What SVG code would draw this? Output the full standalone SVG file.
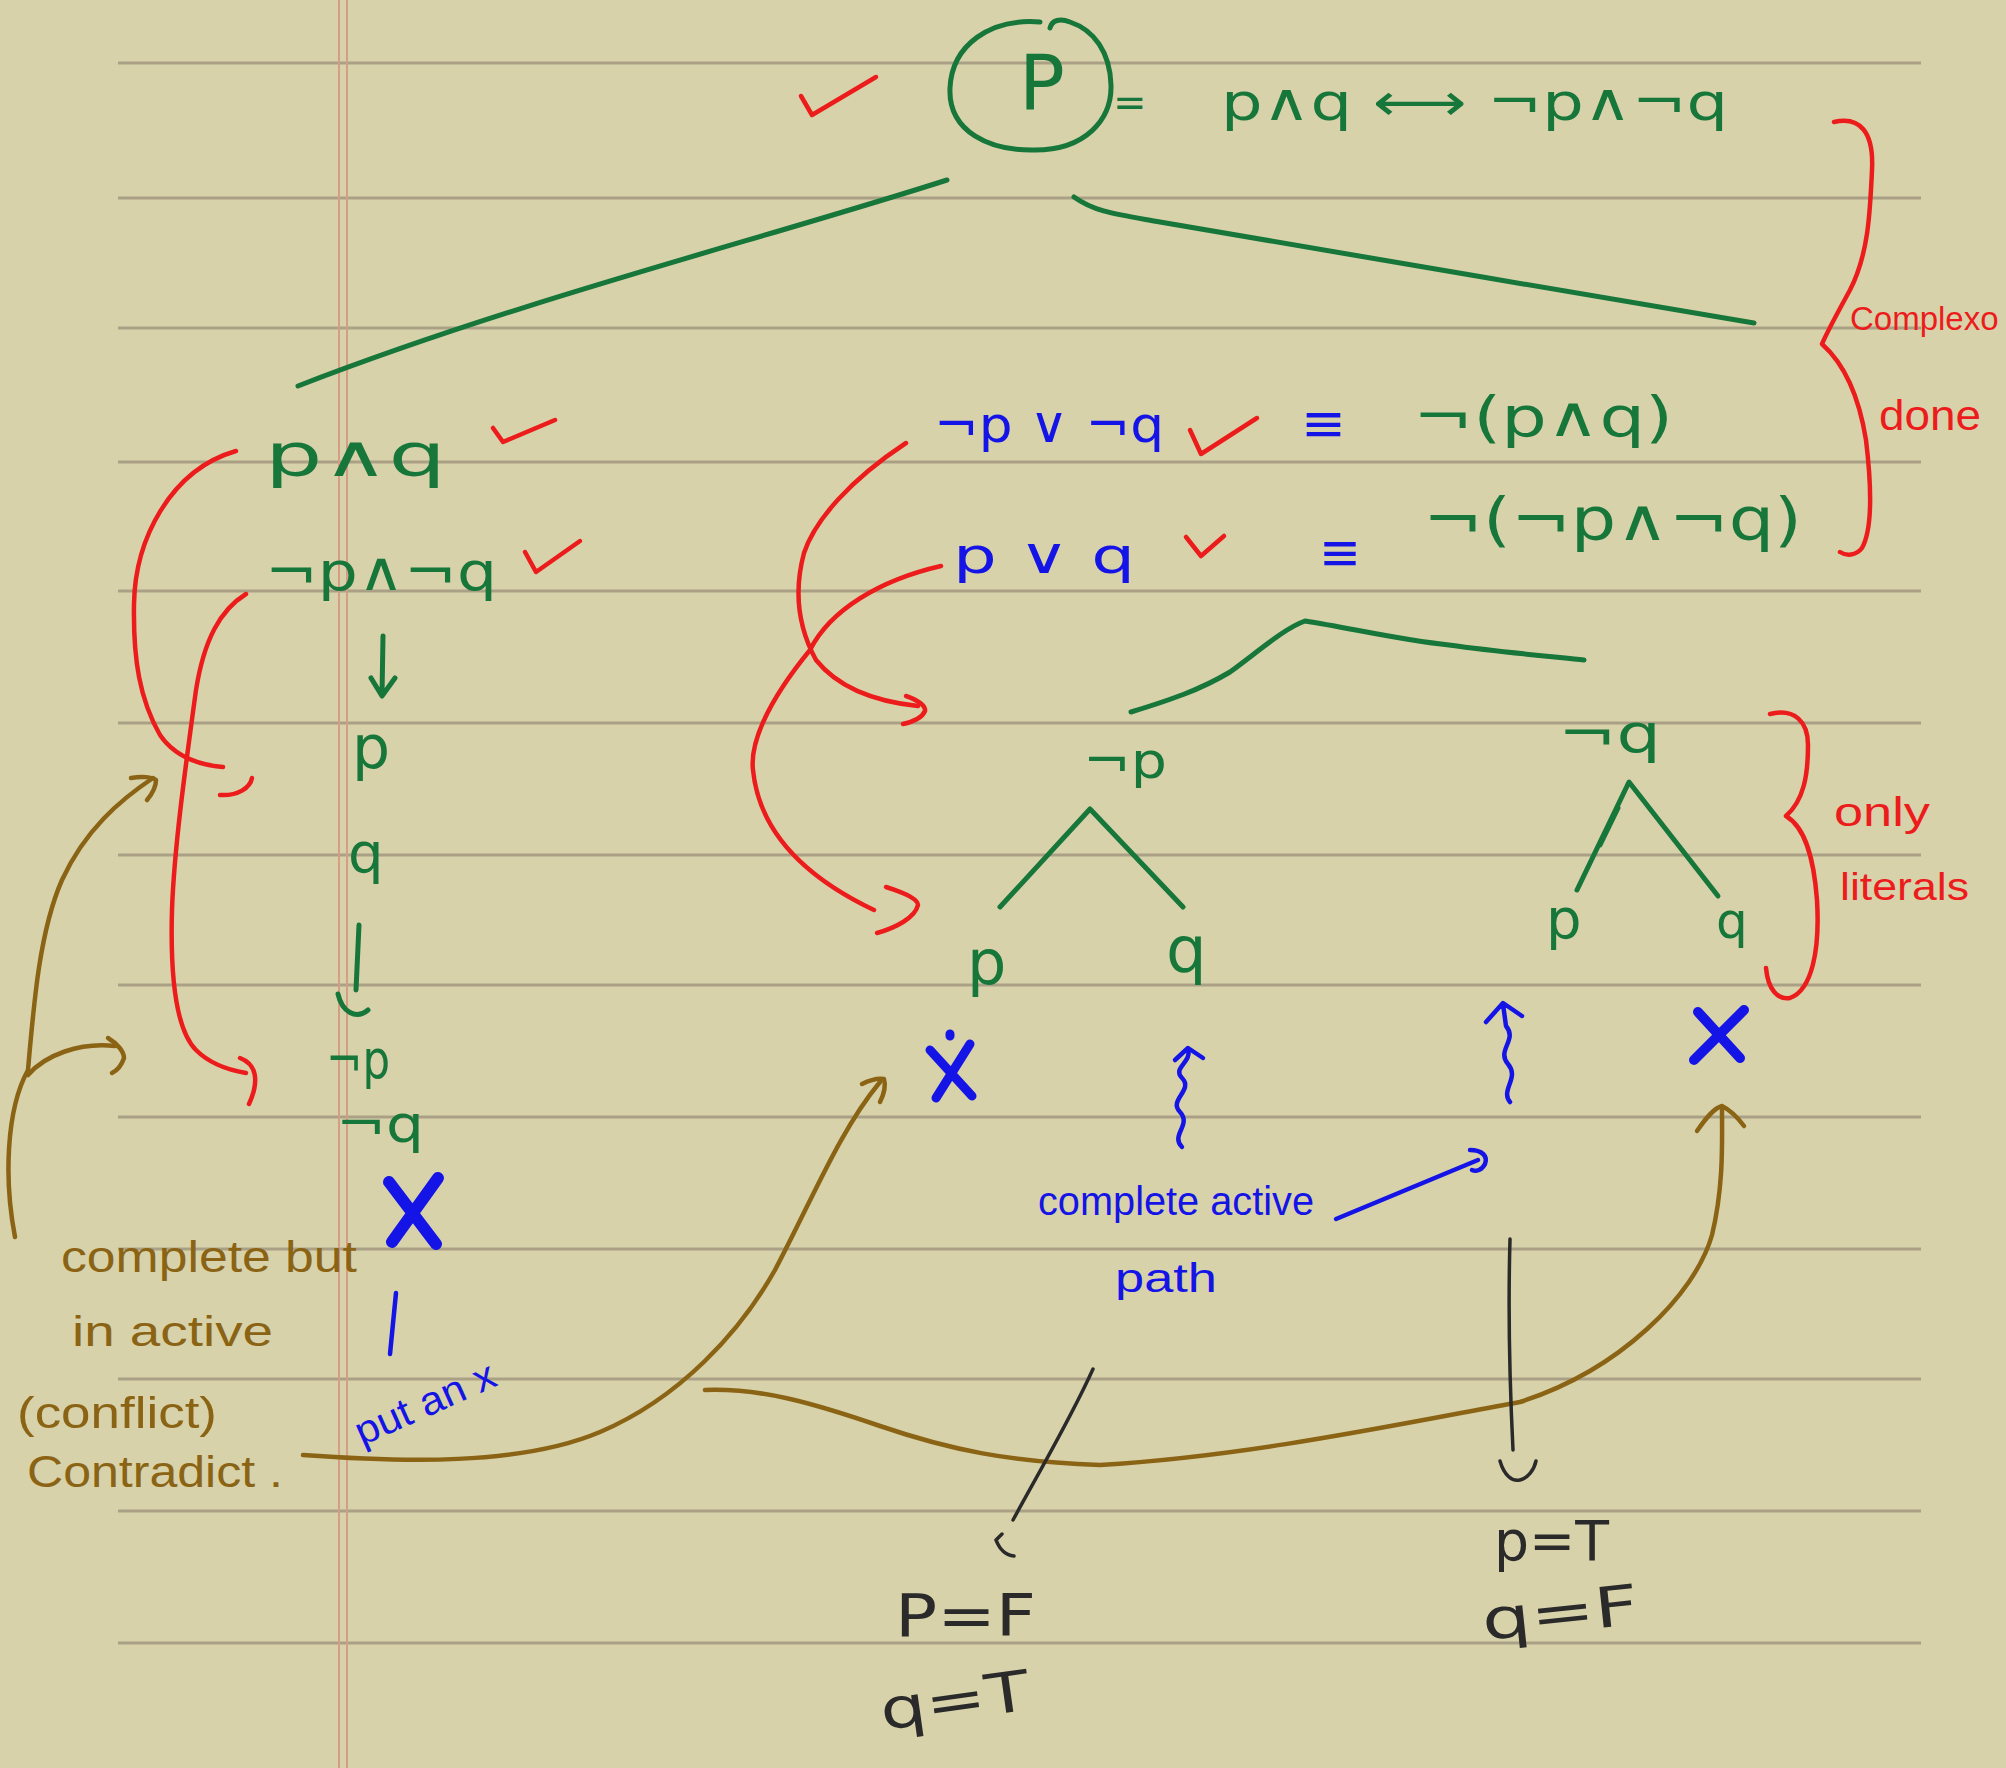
<svg xmlns="http://www.w3.org/2000/svg" width="2006" height="1768" viewBox="0 0 2006 1768">
  <style>
    .rule { stroke: #a9a086; stroke-width: 3; fill: none; }
    .margin { stroke: #d59d84; stroke-width: 2; fill: none; }
    .ink { fill: none; stroke-linecap: round; stroke-linejoin: round; }
    .g { stroke: #17763a; stroke-width: 5; }
    .r { stroke: #ec1c1c; stroke-width: 4.5; }
    .b { stroke: #1414e6; stroke-width: 4.5; }
    .br { stroke: #8a6414; stroke-width: 4.5; }
    .k { stroke: #2a2a2a; stroke-width: 3.5; }
    .bx { stroke: #1414e6; stroke-width: 12; }
    text { font-family: "DejaVu Sans", "Liberation Sans", sans-serif; }
    .tg { fill: #17763a; }
    .tr { fill: #ec1c1c; font-family: "Liberation Sans", sans-serif; }
    .tb { fill: #1414e6; }
    .tbn { fill: #1414e6; font-family: "Liberation Sans", sans-serif; }
    .tbr { fill: #8a6414; font-family: "Liberation Sans", sans-serif; }
    .tk { fill: #2a2a2a; }
  </style>

  <!-- paper -->
  <rect x="0" y="0" width="2006" height="1768" fill="#d8d2aa"/>
  <g id="paper-rules">
    <path class="rule" d="M118 63H1921M118 198H1921M118 328H1921M118 462H1921M118 591H1921M118 723H1921M118 855H1921M118 985H1921M118 1117H1921M118 1249H1921M118 1379H1921M118 1511H1921M118 1643H1921"/>
    <path class="margin" d="M339 0V1768M347 0V1768"/>
  </g>

  <!-- root formula -->
  <g id="root">
    <path class="ink r" d="M801 96 L812 115 L876 77"/>
    <path class="ink g" d="M1040 22 C990 18 952 45 950 88 C948 132 990 151 1035 150 C1085 150 1112 120 1111 85 C1110 52 1094 30 1070 22 C1060 18 1052 20 1050 28"/>
    <text class="tg" x="1019" y="110" font-size="76">P</text>
    <text class="tg" x="1113" y="116" font-size="40">=</text>
    <text class="tg" x="1221" y="120" font-size="52" textLength="507" lengthAdjust="spacingAndGlyphs">p∧q ⟷ ¬p∧¬q</text>
  </g>

  <!-- left branch -->
  <g id="left-branch">
    <text class="tg" x="265" y="476" font-size="58" textLength="181" lengthAdjust="spacingAndGlyphs">p∧q</text>
    <path class="ink r" d="M493 428 L503 442 L555 420"/>
    <text class="tg" x="265" y="590" font-size="54" textLength="232" lengthAdjust="spacingAndGlyphs">¬p∧¬q</text>
    <path class="ink r" d="M525 552 L536 572 L580 541"/>
    <path class="ink g" d="M383 636 L382 695 M371 678 L382 696 L395 678"/>
    <text class="tg" x="352" y="768" font-size="60">p</text>
    <text class="tg" x="348" y="872" font-size="56">q</text>
    <path class="ink g" d="M359 925 L356 990 M338 994 C342 1012 356 1020 368 1010"/>
    <text class="tg" x="326" y="1078" font-size="54" textLength="64" lengthAdjust="spacingAndGlyphs">¬p</text>
    <text class="tg" x="336" y="1142" font-size="52" textLength="88" lengthAdjust="spacingAndGlyphs">¬q</text>
    <path class="ink bx" d="M389 1182 L436 1244 M438 1178 L392 1242"/>
    <path class="ink b" d="M396 1293 L390 1354"/>
    <text class="tbn" x="362" y="1446" font-size="40" textLength="150" lengthAdjust="spacingAndGlyphs" transform="rotate(-24 362 1446)">put an x</text>
  </g>

  <!-- right branch: disjunctions -->
  <g id="right-branch">
    <text class="tb" x="934" y="442" font-size="50" textLength="230" lengthAdjust="spacingAndGlyphs">¬p ∨ ¬q</text>
    <path class="ink r" d="M1190 430 L1201 454 L1257 418"/>
    <text class="tb" x="1301" y="441" font-size="52" textLength="45" lengthAdjust="spacingAndGlyphs">≡</text>
    <text class="tg" x="1413" y="436" font-size="56" textLength="260" lengthAdjust="spacingAndGlyphs">¬(p∧q)</text>
    <text class="tb" x="953" y="573" font-size="50" textLength="182" lengthAdjust="spacingAndGlyphs">p ∨ q</text>
    <path class="ink r" d="M1186 537 L1201 556 L1224 536"/>
    <text class="tb" x="1319" y="570" font-size="52" textLength="42" lengthAdjust="spacingAndGlyphs">≡</text>
    <text class="tg" x="1423" y="540" font-size="58" textLength="379" lengthAdjust="spacingAndGlyphs">¬(¬p∧¬q)</text>
  </g>

  <!-- literal tree -->
  <g id="not-p">
    <text class="tg" x="1083" y="778" font-size="50" textLength="84" lengthAdjust="spacingAndGlyphs">¬p</text>
  </g>
  <g id="not-q">
    <text class="tg" x="1558" y="752" font-size="54" textLength="103" lengthAdjust="spacingAndGlyphs">¬q</text>
  </g>
  <g id="leaf-p-left">
    <text class="tg" x="967" y="984" font-size="62">p</text>
    <path class="ink bx" style="stroke-width:9" d="M930 1050 L972 1096 M970 1044 L936 1098 M950 1034 L950 1036"/>
  </g>
  <g id="leaf-q-left">
    <text class="tg" x="1166" y="972" font-size="64">q</text>
  </g>
  <g id="leaf-p-right">
    <text class="tg" x="1546" y="938" font-size="56">p</text>
  </g>
  <g id="leaf-q-right">
    <text class="tg" x="1716" y="938" font-size="50">q</text>
    <path class="ink bx" style="stroke-width:10" d="M1698 1012 L1740 1058 M1744 1010 L1694 1060"/>
  </g>

  <!-- margin notes -->
  <g id="notes">
    <path class="ink r" d="M1834 122 C1860 116 1874 132 1872 170 C1870 215 1868 255 1850 290 C1838 312 1828 330 1822 344 C1840 360 1858 390 1866 440 C1872 490 1872 530 1862 548 C1856 556 1846 556 1840 552"/>
    <text class="tr" x="1850" y="330" font-size="33">Complexo</text>
    <text class="tr" x="1879" y="430" font-size="42" textLength="102" lengthAdjust="spacingAndGlyphs">done</text>
    <path class="ink r" d="M1770 714 C1795 708 1808 722 1808 745 C1808 775 1804 800 1786 816 C1806 828 1814 860 1817 900 C1820 950 1812 990 1790 998 C1778 1000 1768 990 1766 968"/>
    <text class="tr" x="1834" y="826" font-size="40" textLength="96" lengthAdjust="spacingAndGlyphs">only</text>
    <text class="tr" x="1840" y="900" font-size="38" textLength="129" lengthAdjust="spacingAndGlyphs">literals</text>
    <text class="tbr" x="61" y="1272" font-size="44" textLength="296" lengthAdjust="spacingAndGlyphs">complete but</text>
    <text class="tbr" x="72" y="1346" font-size="42" textLength="201" lengthAdjust="spacingAndGlyphs">in active</text>
    <text class="tbr" x="17" y="1428" font-size="44" textLength="200" lengthAdjust="spacingAndGlyphs">(conflict)</text>
    <text class="tbr" x="27" y="1487" font-size="44" textLength="256" lengthAdjust="spacingAndGlyphs">Contradict .</text>
    <text class="tbn" x="1038" y="1215" font-size="40" textLength="276" lengthAdjust="spacingAndGlyphs">complete active</text>
    <text class="tbn" x="1115" y="1292" font-size="40" textLength="102" lengthAdjust="spacingAndGlyphs">path</text>
  </g>

  <!-- valuations -->
  <g id="valuation-left">
    <text class="tk" x="895" y="1636" font-size="58" textLength="141" lengthAdjust="spacingAndGlyphs">P=F</text>
    <text class="tk" x="883" y="1730" font-size="56" textLength="150" lengthAdjust="spacingAndGlyphs" transform="rotate(-8 883 1730)">q=T</text>
  </g>
  <g id="valuation-right">
    <text class="tk" x="1494" y="1560" font-size="56" textLength="115" lengthAdjust="spacingAndGlyphs">p=T</text>
    <text class="tk" x="1484" y="1640" font-size="56" textLength="157" lengthAdjust="spacingAndGlyphs" transform="rotate(-6 1484 1640)">q=F</text>
  </g>

  <!-- connectors -->
  <g id="connectors">
    <!-- tree edges -->
    <path class="ink g" d="M947 180 C760 240 520 300 298 386"/>
    <path class="ink g" d="M1074 197 C1095 212 1115 214 1160 222 C1350 255 1560 290 1754 323"/>
    <path class="ink g" d="M1131 712 C1170 700 1200 690 1230 672 C1260 650 1285 628 1305 621 C1350 628 1400 640 1449 645 C1500 652 1545 656 1584 660"/>
    <path class="ink g" d="M1000 907 L1090 809 L1183 907"/>
    <path class="ink g" d="M1577 890 L1629 782 L1718 896 M1600 845 L1618 808"/>

    <!-- red rule arrows, left -->
    <path class="ink r" d="M236 451 C170 470 135 540 134 604 C133 660 140 700 160 735 C175 757 200 765 223 767"/>
    <path class="ink r" d="M220 795 C238 796 250 788 252 778"/>
    <path class="ink r" d="M246 594 C220 610 204 640 196 690 C185 770 174 850 172 910 C170 980 176 1030 196 1050 C210 1064 228 1070 246 1073"/>
    <path class="ink r" d="M240 1058 C256 1064 260 1080 249 1104"/>

    <!-- red rule arrows, right -->
    <path class="ink r" d="M906 443 C850 480 815 520 804 553 C794 590 797 625 816 660 C840 690 880 702 918 706"/>
    <path class="ink r" d="M906 696 C918 700 926 706 925 711 C922 718 912 722 903 724"/>
    <path class="ink r" d="M941 566 C880 580 830 610 810 650 C765 705 750 745 753 770 C758 820 790 870 874 910"/>
    <path class="ink r" d="M886 887 C905 893 918 899 918 905 C915 918 895 928 877 933"/>

    <!-- brown note arrows -->
    <path class="ink br" d="M15 1237 C4 1180 6 1110 28 1070 C34 1000 40 930 62 880 C85 830 120 800 153 778"/>
    <path class="ink br" d="M131 778 C142 776 152 777 156 780 C156 788 152 794 147 800"/>
    <path class="ink br" d="M28 1075 C45 1055 80 1042 115 1046"/>
    <path class="ink br" d="M108 1038 C118 1044 124 1052 124 1058 C122 1064 118 1070 112 1073"/>
    <path class="ink br" d="M303 1455 C400 1462 520 1466 600 1432 C680 1398 740 1332 775 1270 C812 1200 840 1130 880 1082"/>
    <path class="ink br" d="M862 1084 C870 1080 878 1078 884 1079 C886 1086 884 1094 880 1102"/>
    <path class="ink br" d="M705 1390 C760 1388 810 1402 880 1426 C950 1450 1010 1462 1100 1465 C1250 1456 1400 1424 1520 1402 C1620 1370 1695 1295 1712 1235 C1724 1185 1722 1140 1722 1108"/>
    <path class="ink br" d="M1697 1131 C1706 1118 1714 1108 1722 1106 C1730 1110 1738 1118 1744 1126"/>

    <!-- blue path arrows -->
    <path class="ink b" d="M1182 1147 C1170 1135 1192 1125 1180 1112 C1168 1100 1194 1090 1182 1078 C1172 1068 1192 1062 1188 1050 M1175 1060 L1188 1048 L1203 1058"/>
    <path class="ink b" d="M1510 1102 C1500 1090 1520 1078 1508 1064 C1496 1050 1518 1040 1506 1026 L1503 1004 M1486 1022 L1503 1003 L1522 1016"/>
    <path class="ink b" d="M1336 1219 L1478 1160 M1470 1150 C1482 1150 1488 1156 1485 1164 C1482 1170 1476 1172 1472 1170"/>

    <!-- black valuation pointers -->
    <path class="ink k" d="M1093 1369 C1070 1420 1040 1470 1013 1520 M996 1540 C1000 1550 1005 1555 1014 1556 M996 1540 L1002 1534"/>
    <path class="ink k" d="M1510 1239 C1508 1310 1510 1390 1513 1450 M1500 1461 C1504 1475 1512 1482 1520 1480 C1528 1478 1534 1470 1536 1461"/>
  </g>
</svg>
